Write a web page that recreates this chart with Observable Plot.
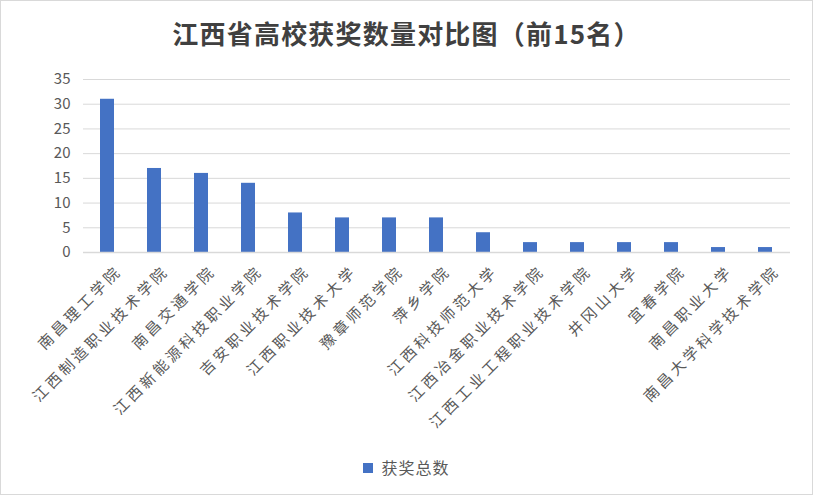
<!DOCTYPE html>
<html><head><meta charset="utf-8">
<script src="https://cdn.jsdelivr.net/npm/d3@7"></script>
<script src="https://cdn.jsdelivr.net/npm/@observablehq/plot@0.6"></script>
<style>
html,body{margin:0;padding:0;background:#fff;}
#wrap{position:relative;width:811px;height:493px;border:1px solid #d9d9d9;font-family:"Noto Sans CJK SC","Noto Sans",sans-serif;}
#title{position:absolute;left:0;top:14px;width:100%;text-align:center;font-size:26px;line-height:36px;font-weight:bold;color:#404040;letter-spacing:1.2px;}
#chart{position:absolute;left:0;top:59px;}
#legend{position:absolute;left:0;top:454px;width:100%;text-align:center;font-size:16px;line-height:24px;color:#595959;letter-spacing:1px;}
#legend span.sw{display:inline-block;width:10px;height:10px;background:#4472C4;margin-right:8px;vertical-align:1px;}
</style></head>
<body>
<div id="wrap">
<div id="title">江西省高校获奖数量对比图（前15名）</div>
<div id="chart"></div>
<div id="legend"><span class="sw"></span>获奖总数</div>
</div>
<script>
const schools = ["南昌理工学院","江西制造职业技术学院","南昌交通学院","江西新能源科技职业学院","吉安职业技术学院","江西职业技术大学","豫章师范学院","萍乡学院","江西科技师范大学","江西冶金职业技术学院","江西工业工程职业技术学院","井冈山大学","宜春学院","南昌职业大学","南昌大学科学技术学院"];
const awards = [31,17,16,14,8,7,7,7,4,2,2,2,2,1,1];
const yTicks = [0,5,10,15,20,25,30,35];
const data = schools.map((s,i)=>({school:s, value:awards[i]}));

const chart = Plot.plot({
  width: 811,
  height: 380,
  marginTop: 19,
  marginBottom: 188,
  marginLeft: 82,
  marginRight: 22,
  style: {fontFamily: '"Noto Sans CJK SC","Noto Sans",sans-serif', fontSize: "13px", color: "#595959", background: "transparent"},
  x: {domain: schools, paddingInner: 0.7, paddingOuter: 0.35, label: null},
  y: {domain: [0,35], ticks: yTicks, label: null},
  marks: [
    Plot.gridY(yTicks.filter(d=>d>0), {stroke: "#d9d9d9", strokeOpacity: 1, strokeWidth: 1}),
    Plot.barY(data, {x: "school", y: "value", fill: "#4472C4"}),
    Plot.ruleY([0], {stroke: "#d9d9d9", strokeWidth: 1.5}),
    Plot.axisY({ticks: yTicks, tickSize: 0, tickPadding: 13, fontSize: 15, fill: "#595959", label: null}),
    Plot.axisX({tickSize: 0, tickRotate: -45, tickPadding: 8, dx: 12, dy: 8, fontSize: 15, fill: "#595959", label: null})
  ]
});
d3.select(chart).selectAll('g[aria-label="x-axis tick label"] text').style("letter-spacing", "3.5px");
document.getElementById("chart").appendChild(chart);
</script>
</body></html>
